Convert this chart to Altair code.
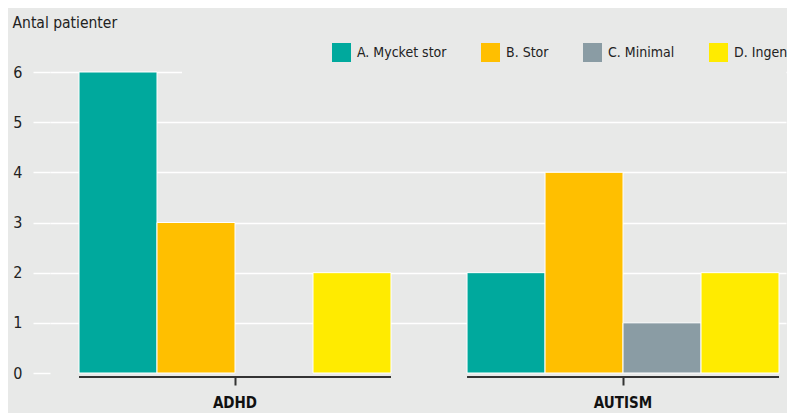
import altair as alt
import pandas as pd

groups = ["ADHD", "AUTISM"]
series = ["A. Mycket stor", "B. Stor", "C. Minimal", "D. Ingen"]
adhd_values = [6, 3, 0, 2]
autism_values = [2, 4, 1, 2]
colors = ["#00a99d", "#ffbf00", "#8a9ca4", "#ffeb00"]
y_ticks = [0, 1, 2, 3, 4, 5, 6]

rows = []
for s, v in zip(series, adhd_values):
    rows.append({"group": "ADHD", "series": s, "value": v})
for s, v in zip(series, autism_values):
    rows.append({"group": "AUTISM", "series": s, "value": v})
df = pd.DataFrame(rows)

FONT = "DejaVu Sans Condensed"
BG = "#e8e9e8"
W, H = 736, 301

x_scale = alt.Scale(domain=groups, paddingInner=0.196, paddingOuter=0.0464, align=0.806)

bars = alt.Chart(df).transform_filter("datum.value > 0").mark_bar(
    stroke="white", strokeWidth=1
).encode(
    x=alt.X("group:N", scale=x_scale,
            axis=alt.Axis(title=None, domain=False, ticks=True, tickColor="#333333",
                          tickSize=8, tickWidth=2, offset=4, labelAngle=0,
                          labelAlign="center", labelBaseline="top",
                          labelFont=FONT, labelFontSize=15, labelFontWeight="bold",
                          labelColor="#111111", labelPadding=10)),
    xOffset=alt.XOffset("series:N", scale=alt.Scale(domain=series, paddingInner=0, paddingOuter=0)),
    y=alt.Y("value:Q", scale=alt.Scale(domain=[0, 6], nice=False),
            axis=alt.Axis(values=y_ticks, domain=False, tickColor="white", tickSize=17,
                          tickWidth=1.5, labelPadding=11, labelFont=FONT, labelFontSize=16,
                          labelColor="#222222",
                          gridColor={"condition": {"test": "datum.value === 0", "value": "transparent"},
                                     "value": "white"},
                          gridWidth=1.5,
                          title="Antal patienter", titleAngle=0, titleAlign="left",
                          titleBaseline="middle", titleX=-38, titleY=-50,
                          titleFont=FONT, titleFontSize=15.5, titleFontWeight="normal",
                          titleColor="#222222")),
    color=alt.Color("series:N", scale=alt.Scale(domain=series, range=colors),
                    legend=alt.Legend(title=None, orient="none", legendX=282, legendY=-29,
                                      direction="horizontal", symbolType="square",
                                      symbolSize=361, symbolStrokeWidth=0, symbolOpacity=1,
                                      labelFont=FONT, labelFontSize=14, labelColor="#222222",
                                      labelOffset=6, columnPadding=34)),
)

mask_df = pd.DataFrame({"k": [1]})
mask = alt.Chart(mask_df).mark_rect(color=BG).encode(
    x=alt.value(132), x2=alt.value(W), y=alt.value(-3), y2=alt.value(3)
)

baseline = alt.Chart(pd.DataFrame({"group": groups})).mark_bar(color="#333333").encode(
    x=alt.X("group:N", scale=x_scale),
    y=alt.value(H + 3), y2=alt.value(H + 5)
)

chart = alt.layer(mask, baseline, bars).properties(
    width=W, height=H, background=BG,
    autosize=alt.AutoSizeParams(type="none"),
    padding={"left": 42, "top": 64, "right": 1, "bottom": 40},
).configure_view(stroke=None)

chart.save("out.html", embed_options={"renderer": "svg", "actions": False})
